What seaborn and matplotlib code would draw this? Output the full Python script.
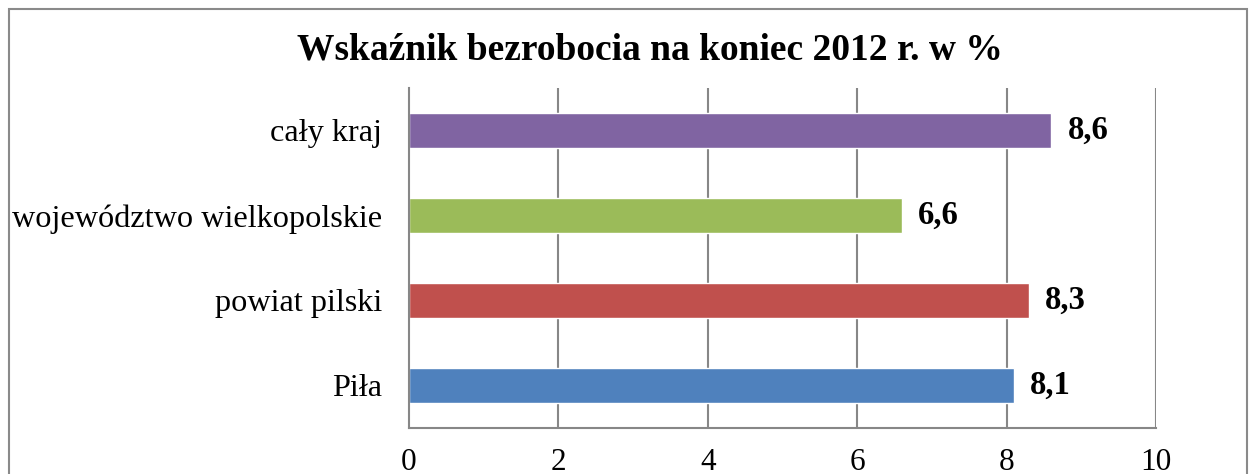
import matplotlib
matplotlib.use("Agg")
import matplotlib.pyplot as plt
import matplotlib.patches as mpatches
import seaborn as sns
import pandas as pd

categories = ["cały kraj", "województwo wielkopolskie", "powiat pilski", "Piła"]
values = [8.6, 6.6, 8.3, 8.1]
colors = ["#8064A2", "#9BBB59", "#C0504D", "#4F81BD"]
value_labels = ["8,6", "6,6", "8,3", "8,1"]
x_ticks = [0, 2, 4, 6, 8, 10]
title = "Wskaźnik bezrobocia na koniec 2012 r. w %"

sns.set_theme(style="white")
plt.rcParams["font.family"] = ["Liberation Serif", "DejaVu Serif"]

df = pd.DataFrame({"cat": categories, "val": values})

fig = plt.figure(figsize=(12.55, 4.74), dpi=100)
ax = fig.add_axes([409/1255, 1 - 428/474, (1156-409)/1255, (428-88)/474])

sns.barplot(data=df, x="val", y="cat", hue="cat", palette=colors, legend=False,
            orient="h", width=0.41, ax=ax, saturation=1)

grid_c = "#878787"
ax.set_xlim(0, 10)
ax.set_ylim(3.5, -0.5)
ax.set_xticks(x_ticks)
ax.set_xticklabels([str(t) for t in x_ticks], fontsize=22.5)
ax.set_yticks([-0.5, 0.5, 1.5, 2.5, 3.5], minor=False)
ax.set_yticklabels([])
ax.set_yticks([0, 1, 2, 3], minor=True)
ax.set_yticklabels(categories, minor=True, fontsize=23.2)
ax.tick_params(axis="y", which="minor", length=0, pad=19.2)
ax.tick_params(axis="y", which="major", length=7, width=1.5, color=grid_c, direction="out")
ax.tick_params(axis="x", length=6, width=1.5, color=grid_c, direction="out", pad=8.5)
ax.set_xlabel("")
ax.set_ylabel("")
for t in ax.get_xticklabels() + ax.get_yticklabels(minor=True):
    t.set_color("black")

ax.grid(False)
for x in x_ticks[1:]:
    ax.axvline(x, color=grid_c, lw=1.5, zorder=0)
for s in ["top", "right"]:
    ax.spines[s].set_visible(False)
for s in ["left", "bottom"]:
    ax.spines[s].set_color(grid_c)
    ax.spines[s].set_linewidth(1.5)
    ax.spines[s].set_visible(True)

for i, (v, lab) in enumerate(zip(values, value_labels)):
    ax.annotate(lab, xy=(v, i), xytext=(11.5, 0), textcoords="offset points",
                ha="left", va="center", fontsize=23.5, fontweight="bold", color="black")

fig.text(650/1255, 1 - 60/474, title, ha="center", va="baseline",
         fontsize=27, fontweight="bold", color="black")

fig.patches.append(mpatches.Rectangle((9/1255, -0.1), (1247-9)/1255, 1 - 9/474 + 0.1,
                                      transform=fig.transFigure, fill=False,
                                      edgecolor="#8a8a8a", lw=1.5))

fig.savefig("out.png", dpi=100)
